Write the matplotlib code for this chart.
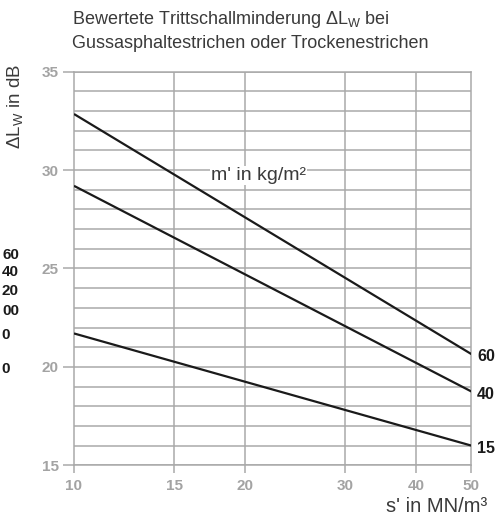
import matplotlib
matplotlib.use("Agg")
import matplotlib.pyplot as plt
from matplotlib.ticker import FixedLocator, NullLocator, FixedFormatter

plt.rcParams["font.family"] = ["Liberation Sans", "DejaVu Sans"]

# data (endpoints of straight lines on the log s' axis)
s_vals = [10, 50]
mass_labels = ["60", "40", "15"]
dlw_60 = [32.85, 20.65]
dlw_40 = [29.2, 18.75]
dlw_15 = [21.7, 16.0]
series = [dlw_60, dlw_40, dlw_15]

x_ticks = [10, 15, 20, 30, 40, 50]
y_major = [15, 20, 25, 30, 35]
y_grid = list(range(15, 36))

# labels belonging to a neighbouring figure at the left edge
side_labels = ["60", "40", "20", "00", "0", "0"]

grid_col = "#a9a9a9"
tick_col = "#a3a3a3"
text_col = "#3a3a3a"

fig = plt.figure(figsize=(4.97, 5.17), dpi=100)
ax = fig.add_axes([74 / 497, 1 - 465.3 / 517, 397.4 / 497, 393.6 / 517])

ax.set_xscale("log")
ax.set_xlim(10, 50)
ax.set_ylim(15, 35)

for y in y_grid:
    ax.axhline(y, color=grid_col, lw=1.1, zorder=1)
for x in x_ticks[1:-1]:
    ax.axvline(x, color=grid_col, lw=1.1, zorder=1)

for vals in series:
    ax.plot(s_vals, vals, color="#1a1a1a", lw=1.6, zorder=3, solid_capstyle="butt")

for lab, vals in zip(mass_labels, series):
    ax.annotate(lab, (s_vals[-1], vals[-1]), xytext=(4, -2), textcoords="offset points",
                ha="left", va="center", fontsize=11.5, fontweight="bold", color="#1a1a1a",
                annotation_clip=False)

ax.text(21.1, 29.72, "m' in kg/m²", ha="center", va="center", fontsize=14, color=text_col,
        zorder=4, bbox=dict(facecolor="white", edgecolor="none", pad=0.5))

ax.xaxis.set_major_locator(FixedLocator(x_ticks))
ax.xaxis.set_major_formatter(FixedFormatter([str(v) for v in x_ticks]))
ax.xaxis.set_minor_locator(NullLocator())
ax.yaxis.set_major_locator(FixedLocator(y_major))
ax.yaxis.set_minor_locator(NullLocator())

ax.tick_params(axis="both", colors=grid_col, labelcolor=tick_col, width=1.1,
               labelsize=11)
ax.tick_params(axis="y", length=8, pad=3)
ax.tick_params(axis="x", length=6, pad=4)
for lbl in ax.get_xticklabels() + ax.get_yticklabels():
    lbl.set_fontweight("bold")

for sp in ax.spines.values():
    sp.set_color(grid_col)
    sp.set_linewidth(1.1)

fig.text(72 / 497, 1 - 20 / 517, "Bewertete Trittschallminderung ΔL$_\\mathregular{W}$ bei",
         ha="left", va="center", fontsize=13, color=text_col)
fig.text(72 / 497, 1 - 43 / 517, "Gussasphaltestrichen oder Trockenestrichen",
         ha="left", va="center", fontsize=13, color=text_col)

fig.text(16 / 497, 1 - 64 / 517, "ΔL$_\\mathregular{W}$ in dB", rotation=90,
         ha="center", va="top", fontsize=13.5, color=text_col)
fig.text(487 / 497, 1 - 507 / 517, "s' in MN/m³", ha="right", va="center",
         fontsize=14.5, color=text_col)

side_y = [255, 272, 291, 311, 335, 369]
side_x = [19, 19, 19, 19, 10, 10]
for lab, yy, xx in zip(side_labels, side_y, side_x):
    fig.text(xx / 497, 1 - yy / 517, lab, ha="right", va="center", fontsize=11,
             fontweight="bold", color="#1a1a1a")

fig.savefig("out.png", dpi=100)
